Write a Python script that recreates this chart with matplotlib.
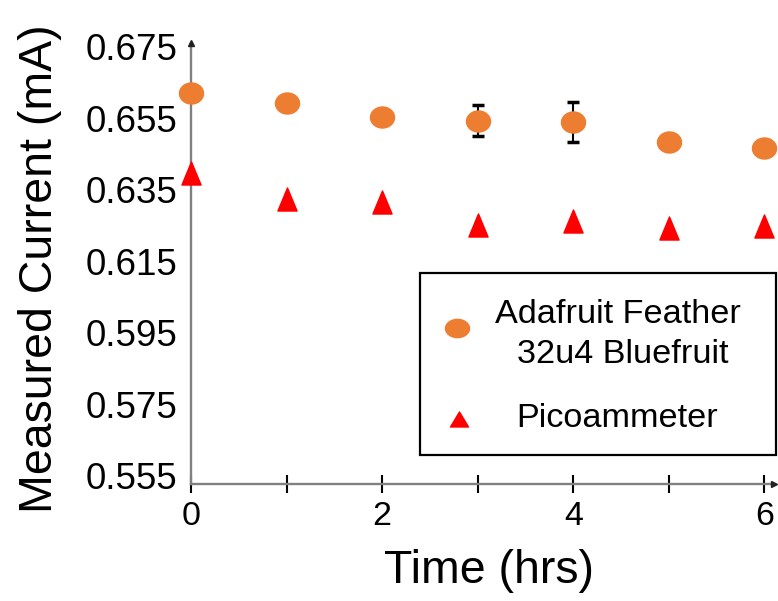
import numpy as np
import matplotlib
matplotlib.use("Agg")
import matplotlib.pyplot as plt
from matplotlib.path import Path
from matplotlib.patches import Rectangle
from matplotlib.lines import Line2D

plt.rcParams['font.family'] = ['Liberation Sans', 'DejaVu Sans']

# ---- data ----
time_hrs = [0, 1, 2, 3, 4, 5, 6]
feather_mA = [0.6621, 0.6593, 0.6554, 0.6543, 0.6539, 0.6483, 0.6466]
feather_err = [0, 0, 0, 0.0044, 0.0055, 0, 0]
pico_mA = [0.6398, 0.6325, 0.6317, 0.6252, 0.6262, 0.6244, 0.6248]
y_ticks = [0.555, 0.575, 0.595, 0.615, 0.635, 0.655, 0.675]
x_ticks = [0, 1, 2, 3, 4, 5, 6]
x_ticklabels = ["0", "", "2", "", "4", "", "6"]
label_feather = ["Adafruit Feather", "32u4 Bluefruit"]
label_pico = "Picoammeter"

ORANGE = '#ED7D31'
RED = '#FF0000'

W, H = 778, 601
fig = plt.figure(figsize=(W / 100, H / 100), dpi=100)

def fx(px):
    return px / W

def fy(py):
    return 1 - py / H

ax_left, ax_right, ax_top, ax_bot = 191, 774, 43, 484
ax = fig.add_axes([fx(ax_left), fy(ax_bot), (ax_right - ax_left) / W, (ax_bot - ax_top) / H])

# custom markers
circ = Path.unit_circle()
ellipse = Path(circ.vertices * np.array([1.0, 0.875]), circ.codes)
ellipse_leg = Path(circ.vertices * np.array([1.0, 0.76]), circ.codes)
tri = Path([(0, 1), (-0.83, -1), (0.83, -1), (0, 1)],
           [Path.MOVETO, Path.LINETO, Path.LINETO, Path.CLOSEPOLY])
tri_leg = Path([(0, 0.83), (-1, -0.83), (1, -0.83), (0, 0.83)],
               [Path.MOVETO, Path.LINETO, Path.LINETO, Path.CLOSEPOLY])

# error bars (only where nonzero)
xe = [t for t, e in zip(time_hrs, feather_err) if e > 0]
ye = [v for v, e in zip(feather_mA, feather_err) if e > 0]
ee = [e for e in feather_err if e > 0]
ax.errorbar(xe, ye, yerr=ee, fmt='none', ecolor='black', elinewidth=1.5,
            capsize=4.6, capthick=2.5, zorder=2, clip_on=False)

ax.plot(time_hrs, feather_mA, linestyle='none', marker=ellipse, ms=17.3,
        color=ORANGE, mec=ORANGE, zorder=3, clip_on=False)
ax.plot(time_hrs, pico_mA, linestyle='none', marker=tri, ms=16.6,
        color=RED, mec=RED, zorder=3, clip_on=False)

ax.set_xlim(0, 6.1)
ax.set_ylim(0.55276, 0.67603)

ax.set_yticks(y_ticks)
ax.set_yticklabels([f"{v:.3f}" for v in y_ticks])
ax.set_xticks(x_ticks)
ax.set_xticklabels(x_ticklabels)

ax.tick_params(axis='y', length=0, pad=9.7, labelsize=26.5, labelcolor='black')
ax.tick_params(axis='x', direction='inout', length=13, width=1.5, color='black',
               pad=5.7, labelsize=24.5, labelcolor='black')

for s in ['top', 'right']:
    ax.spines[s].set_visible(False)
for s in ['left', 'bottom']:
    ax.spines[s].set_color('#808080')
    ax.spines[s].set_linewidth(1.7)

# arrow heads
ax.plot([0], [1], marker='^', ms=4.5, color='#222222', transform=ax.transAxes,
        clip_on=False, zorder=4)
ax.plot([1], [0], marker='>', ms=4.5, color='#222222', transform=ax.transAxes,
        clip_on=False, zorder=4)

# axis labels
fig.text(fx(489), fy(583), "Time (hrs)", fontsize=33.5, ha='center', va='baseline')
fig.text(fx(52), fy(513), "Measured Current (mA)", fontsize=33.5, rotation=90,
         rotation_mode='anchor', ha='left', va='baseline')

# legend (manual)
fig.add_artist(Rectangle((fx(420), fy(455)), (776 - 420) / W, (455 - 273) / H,
                         transform=fig.transFigure, fill=False, ec='black', lw=1.6))
fig.add_artist(Line2D([fx(457)], [fy(328)], marker=ellipse_leg, ms=17.3, color=ORANGE,
                      mec=ORANGE, linestyle='none', transform=fig.transFigure))
fig.add_artist(Line2D([fx(459)], [fy(419)], marker=tri_leg, ms=13, color=RED,
                      mec=RED, linestyle='none', transform=fig.transFigure))
fig.text(fx(618), fy(323), label_feather[0], fontsize=24.7, ha='center', va='baseline')
fig.text(fx(623), fy(363), label_feather[1], fontsize=24.7, ha='center', va='baseline')
fig.text(fx(617), fy(427), label_pico, fontsize=24.7, ha='center', va='baseline')

fig.savefig("out.png", dpi=100)
